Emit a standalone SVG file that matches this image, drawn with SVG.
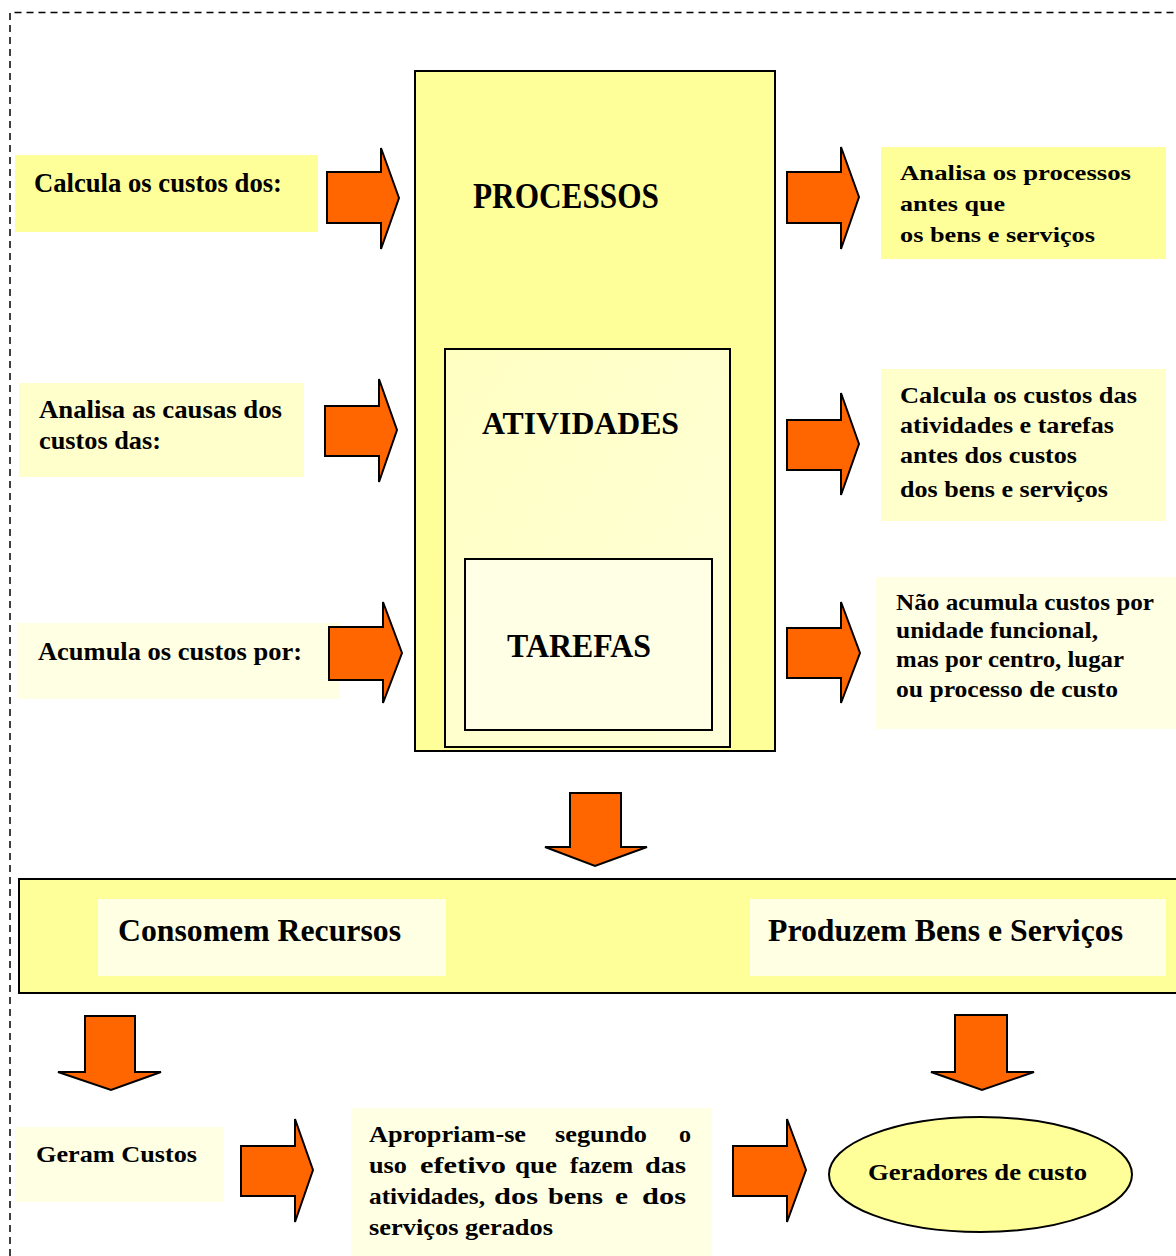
<svg xmlns="http://www.w3.org/2000/svg" width="1176" height="1256" viewBox="0 0 1176 1256">
  <style>
    .t { font-family: "Liberation Serif", "Times New Roman", serif; font-weight: bold; fill: #000; }
    .s22 { font-size: 22px; }
    .s23 { font-size: 23px; }
    .s24 { font-size: 24px; }
    .s26 { font-size: 26px; }
    .s27 { font-size: 27px; }
    .s32 { font-size: 32px; }
    .s33 { font-size: 33px; }
    .s35 { font-size: 35px; }
    .arrow { fill: #FF6600; stroke: #000; stroke-width: 2; stroke-linejoin: miter; }
    .box { stroke: #000; stroke-width: 2; }
    .y1 { fill: #FFFF99; }
    .y2 { fill: #FFFFCC; }
    .y3 { fill: #FFFFE4; }
  </style>
  <defs>
    <linearGradient id="actGrad" x1="0" y1="0" x2="1" y2="1">
      <stop offset="0" stop-color="#FFFFC2"/>
      <stop offset="1" stop-color="#FFFFDA"/>
    </linearGradient>
  </defs>
  <rect width="1176" height="1256" fill="#FFFFFF"/>

  <!-- dashed frame, open to the right and bottom -->
  <path d="M10,1256 V12.5 H1176" fill="none" stroke="#000" stroke-width="1.5" stroke-dasharray="7 5"/>

  <!-- central process / activity / task boxes -->
  <g id="processos">
    <rect class="box y1" x="415" y="71" width="360" height="680"/>
    <text class="t s35" x="473" y="208" textLength="186" lengthAdjust="spacingAndGlyphs">PROCESSOS</text>
  </g>
  <g id="atividades">
    <rect class="box" x="445" y="349" width="285" height="398" fill="url(#actGrad)"/>
    <text class="t s32" x="482" y="434" textLength="197" lengthAdjust="spacingAndGlyphs">ATIVIDADES</text>
  </g>
  <g id="tarefas">
    <rect class="box" x="465" y="559" width="247" height="171" fill="#FFFFE6"/>
    <text class="t s33" x="507" y="657" textLength="144" lengthAdjust="spacingAndGlyphs">TAREFAS</text>
  </g>

  <!-- left labels -->
  <g id="calcula-dos">
    <rect class="y1" x="15" y="155" width="303" height="77"/>
    <text class="t s27" x="34" y="192" textLength="248" lengthAdjust="spacingAndGlyphs">Calcula os custos dos:</text>
  </g>
  <g id="analisa-causas">
    <rect class="y2" x="19" y="383" width="285" height="94"/>
    <text class="t s26" x="39" y="418" textLength="243" lengthAdjust="spacingAndGlyphs">Analisa as causas dos</text>
    <text class="t s26" x="39" y="449" textLength="122" lengthAdjust="spacingAndGlyphs">custos das:</text>
  </g>
  <g id="acumula-por">
    <rect class="y3" x="17" y="623" width="323" height="76"/>
    <text class="t s26" x="38" y="660" textLength="264" lengthAdjust="spacingAndGlyphs">Acumula os custos por:</text>
  </g>

  <!-- right labels -->
  <g id="analisa-processos">
    <rect class="y1" x="881" y="147" width="285" height="112"/>
    <text class="t s22" x="900" y="180" textLength="231" lengthAdjust="spacingAndGlyphs">Analisa os processos</text>
    <text class="t s22" x="900" y="211" textLength="105" lengthAdjust="spacingAndGlyphs">antes que</text>
    <text class="t s22" x="900" y="242" textLength="195" lengthAdjust="spacingAndGlyphs">os bens e serviços</text>
  </g>
  <g id="calcula-atividades">
    <rect class="y2" x="881" y="369" width="285" height="152"/>
    <text class="t s23" x="900" y="403" textLength="237" lengthAdjust="spacingAndGlyphs">Calcula os custos das</text>
    <text class="t s23" x="900" y="433" textLength="214" lengthAdjust="spacingAndGlyphs">atividades e tarefas</text>
    <text class="t s23" x="900" y="463" textLength="177" lengthAdjust="spacingAndGlyphs">antes dos custos</text>
    <text class="t s23" x="900" y="497" textLength="208" lengthAdjust="spacingAndGlyphs">dos bens e serviços</text>
  </g>
  <g id="nao-acumula">
    <rect class="y3" x="876" y="577" width="300" height="152"/>
    <text class="t s24" x="896" y="610" textLength="258" lengthAdjust="spacingAndGlyphs">Não acumula custos por</text>
    <text class="t s24" x="896" y="638" textLength="202" lengthAdjust="spacingAndGlyphs">unidade funcional,</text>
    <text class="t s24" x="896" y="667" textLength="228" lengthAdjust="spacingAndGlyphs">mas por centro, lugar</text>
    <text class="t s24" x="896" y="697" textLength="222" lengthAdjust="spacingAndGlyphs">ou processo de custo</text>
  </g>

  <!-- horizontal band -->
  <g id="faixa">
    <rect class="box y1" x="19" y="879" width="1160" height="114"/>
  </g>
  <g id="consomem">
    <rect class="y3" x="98" y="899" width="348" height="77"/>
    <text class="t s32" x="118" y="941" textLength="283" lengthAdjust="spacingAndGlyphs">Consomem Recursos</text>
  </g>
  <g id="produzem">
    <rect class="y3" x="750" y="899" width="416" height="77"/>
    <text class="t s32" x="768" y="941" textLength="355" lengthAdjust="spacingAndGlyphs">Produzem Bens e Serviços</text>
  </g>

  <!-- bottom row -->
  <g id="geram-custos">
    <rect class="y3" x="15" y="1127" width="209" height="75"/>
    <text class="t s23" x="36" y="1162" textLength="161" lengthAdjust="spacingAndGlyphs">Geram Custos</text>
  </g>
  <g id="apropriam">
    <rect class="y3" x="351" y="1108" width="361" height="148"/>
    <g class="t s23">
      <text x="369" y="1142" textLength="157" lengthAdjust="spacingAndGlyphs">Apropriam-se</text>
      <text x="555" y="1142" textLength="92" lengthAdjust="spacingAndGlyphs">segundo</text>
      <text x="679" y="1142" textLength="12" lengthAdjust="spacingAndGlyphs">o</text>
      <text x="369" y="1173" textLength="38" lengthAdjust="spacingAndGlyphs">uso</text>
      <text x="420" y="1173" textLength="86" lengthAdjust="spacingAndGlyphs">efetivo</text>
      <text x="515" y="1173" textLength="42" lengthAdjust="spacingAndGlyphs">que</text>
      <text x="570" y="1173" textLength="63" lengthAdjust="spacingAndGlyphs">fazem</text>
      <text x="645" y="1173" textLength="41" lengthAdjust="spacingAndGlyphs">das</text>
      <text x="369" y="1204" textLength="116" lengthAdjust="spacingAndGlyphs">atividades,</text>
      <text x="494" y="1204" textLength="44" lengthAdjust="spacingAndGlyphs">dos</text>
      <text x="548" y="1204" textLength="55" lengthAdjust="spacingAndGlyphs">bens</text>
      <text x="615" y="1204" textLength="13" lengthAdjust="spacingAndGlyphs">e</text>
      <text x="642" y="1204" textLength="44" lengthAdjust="spacingAndGlyphs">dos</text>
      <text x="369" y="1235" textLength="184" lengthAdjust="spacingAndGlyphs">serviços gerados</text>
    </g>
  </g>
  <g id="geradores">
    <ellipse cx="980.5" cy="1174.5" rx="151.5" ry="57.5" fill="#FFFF99" stroke="#000" stroke-width="2"/>
    <text class="t s23" x="868" y="1180" textLength="219" lengthAdjust="spacingAndGlyphs">Geradores de custo</text>
  </g>

  <!-- block arrows -->
  <g id="connectors">
    <path class="arrow" d="M327,172 H381 V148 L399,198 L381,249 V223 H327 Z"/>
    <path class="arrow" d="M325,406 H379 V379 L397,430 L379,482 V456 H325 Z"/>
    <path class="arrow" d="M329,627 H383 V602 L402,653 L383,703 V680 H329 Z"/>
    <path class="arrow" d="M787,172 H841 V147 L859,197 L841,249 V223 H787 Z"/>
    <path class="arrow" d="M787,420 H841 V393 L859,444 L841,495 V470 H787 Z"/>
    <path class="arrow" d="M787,628 H841 V602 L860,653 L841,703 V678 H787 Z"/>
    <path class="arrow" d="M570,793 H621 V847 H647 L595,866 L545,847 H570 Z"/>
    <path class="arrow" d="M85,1016 H135 V1072 H161 L111,1090 L58,1072 H85 Z"/>
    <path class="arrow" d="M955,1015 H1007 V1072 H1034 L982,1090 L931,1072 H955 Z"/>
    <path class="arrow" d="M241,1146 H295 V1119 L313,1170 L295,1222 V1196 H241 Z"/>
    <path class="arrow" d="M733,1146 H787 V1119 L806,1170 L787,1222 V1196 H733 Z"/>
  </g>
</svg>
